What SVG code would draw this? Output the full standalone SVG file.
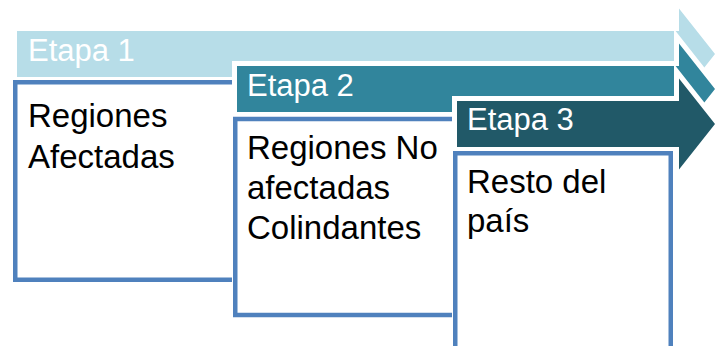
<svg xmlns="http://www.w3.org/2000/svg" width="715" height="346" viewBox="0 0 715 346">
  <style>
    .arrow { stroke: #FFFFFF; stroke-width: 10; stroke-linejoin: miter; paint-order: stroke; }
    .a1 { fill: #B7DDE8; }
    .a2 { fill: #31859C; }
    .a3 { fill: #215968; }
    .boxOutline { fill: none; stroke: #FFFFFF; stroke-width: 6.5; }
    .box { fill: #FFFFFF; stroke: #4F81BD; stroke-width: 4.5; }
    .stage { font-family: "Liberation Sans", Arial, sans-serif; font-size: 31px; fill: #FFFFFF; }
    .body { font-family: "Liberation Sans", Arial, sans-serif; font-size: 33px; fill: #000000; }
  </style>
  <rect width="715" height="346" fill="#FFFFFF"/>
  <g id="connectors"></g>

  <g id="stage1">
    <path class="arrow a1" d="M17,31 H679 V8.5 L715,54 L679,99.5 V77 H17 Z"/>
    <text class="stage" x="28" y="61">Etapa 1</text>
  </g>
  <g id="box1">
    <rect class="boxOutline" x="15.25" y="82.25" width="220" height="197.5"/>
    <rect class="box" x="15.25" y="82.25" width="220" height="197.5"/>
    <text class="body" x="28" y="127">Regiones</text>
    <text class="body" x="28" y="168">Afectadas</text>
  </g>

  <g id="stage2">
    <path class="arrow a2" d="M237,66 H679 V43.5 L715,89 L679,134.5 V112 H237 Z"/>
    <text class="stage" x="247" y="96">Etapa 2</text>
  </g>
  <g id="box2">
    <rect class="boxOutline" x="235.25" y="119" width="220" height="196"/>
    <rect class="box" x="235.25" y="119" width="220" height="196"/>
    <text class="body" x="247" y="159">Regiones No</text>
    <text class="body" x="247" y="199">afectadas</text>
    <text class="body" x="247" y="239">Colindantes</text>
  </g>

  <g id="stage3">
    <path class="arrow a3" d="M457,101 H679 V78.5 L715,124 L679,169.5 V147 H457 Z"/>
    <text class="stage" x="467" y="130">Etapa 3</text>
  </g>
  <g id="box3">
    <rect class="boxOutline" x="455.25" y="153.25" width="215.5" height="200"/>
    <rect class="box" x="455.25" y="153.25" width="215.5" height="200"/>
    <text class="body" x="467" y="193">Resto del</text>
    <text class="body" x="467" y="232">país</text>
  </g>
</svg>
